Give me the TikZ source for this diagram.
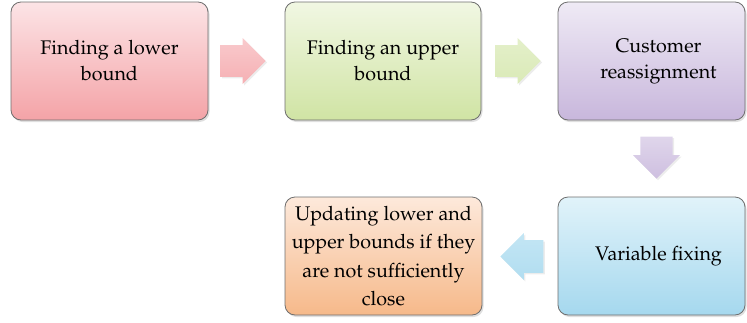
\documentclass[tikz,border=0pt]{standalone}
\usepackage[T1]{fontenc}
\usepackage{mathpazo}
\usetikzlibrary{shadows,shapes.arrows}
\definecolor{rTop}{HTML}{FCE4E6}\definecolor{rBot}{HTML}{F4A3A7}
\definecolor{gTop}{HTML}{F1F7E3}\definecolor{gBot}{HTML}{D0E4A4}
\definecolor{pTop}{HTML}{EFEAF5}\definecolor{pBot}{HTML}{C8B7DC}
\definecolor{bTop}{HTML}{E1F3FA}\definecolor{bBot}{HTML}{A5D8EE}
\definecolor{oTop}{HTML}{FDE9DB}\definecolor{oBot}{HTML}{F6B98A}
\definecolor{edge}{HTML}{6E6E6E}
\tikzset{
  flowbox/.style={draw=edge, line width=0.8pt, rounded corners=10pt, align=center,
    font=\fontsize{19.7}{26}\selectfont, minimum height=118pt, inner sep=2pt,
    drop shadow={opacity=0.25, shadow xshift=1.5pt, shadow yshift=-2pt}},
  boxtext/.style={align=center, font=\fontsize{19.7}{26}\selectfont, inner sep=0pt},
  blockarrow/.style={single arrow, draw=none, inner sep=0pt, single arrow tip angle=90,
    drop shadow={opacity=0.15, shadow xshift=1.5pt, shadow yshift=-1.5pt}}
}
\begin{document}
\begin{tikzpicture}[x=1pt,y=1pt]
\useasboundingbox (0,0) rectangle (747,-322);
\node[flowbox, minimum width=197pt, top color=rTop, bottom color=rBot] (b1) at (109.5,-61) {Finding a lower\\bound};
\node[flowbox, minimum width=196pt, top color=gTop, bottom color=gBot] (b2) at (383,-61) {Finding an upper\\bound};
\node[flowbox, minimum width=187pt, top color=pTop, bottom color=pBot] (b3) at (651.5,-61) {};
\node[boxtext] (b3t) at ([xshift=7pt]b3.center) {Customer\\reassignment};
\node[flowbox, minimum width=187pt, top color=bTop, bottom color=bBot] (b4) at (651.5,-256) {};
\node[boxtext] (b4t) at ([xshift=7pt]b4.center) {Variable fixing};
\node[flowbox, minimum width=197pt, top color=oTop, bottom color=oBot, font=\fontsize{19.7}{28.5}\selectfont] (b5) at (383.5,-256) {Updating lower and\\upper bounds if they\\are not sufficiently\\close};
\node[blockarrow, anchor=tip, minimum height=45pt, minimum width=46pt, inner ysep=15.5pt, top color=rTop!60!rBot, bottom color=rBot!80!rTop] (a1) at (266,-61) {};
\node[blockarrow, anchor=tip, minimum height=45pt, minimum width=46pt, inner ysep=15.5pt, top color=gTop!60!gBot, bottom color=gBot!70!gTop] (a2) at (541,-61) {};
\node[blockarrow, anchor=tip, shape border rotate=270, minimum height=42pt, minimum width=47pt, inner xsep=15pt, top color=pTop!60!pBot, bottom color=pBot!85!pTop] (a3) at (656.5,-179) {};
\node[blockarrow, anchor=tip, shape border rotate=180, minimum height=43pt, minimum width=47pt, inner ysep=16pt, top color=bTop!50!bBot, bottom color=bBot!80!bTop] (a4) at (500,-256.5) {};
\end{tikzpicture}
\end{document}
